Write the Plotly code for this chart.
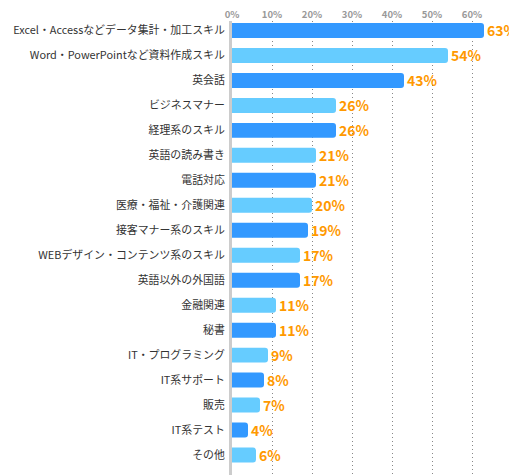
import plotly.graph_objects as go

# skills, top to bottom
skills = [
    'Excel・Accessなどデータ集計・加工スキル',
    'Word・PowerPointなど資料作成スキル',
    '英会話',
    'ビジネスマナー',
    '経理系のスキル',
    '英語の読み書き',
    '電話対応',
    '医療・福祉・介護関連',
    '接客マナー系のスキル',
    'WEBデザイン・コンテンツ系のスキル',
    '英語以外の外国語',
    '金融関連',
    '秘書',
    'IT・プログラミング',
    'IT系サポート',
    '販売',
    'IT系テスト',
    'その他',
]
percent = [63, 54, 43, 26, 26, 21, 21, 20, 19, 17, 17, 11, 11, 9, 8, 7, 4, 6]
tick_vals = [0, 10, 20, 30, 40, 50, 60]
tick_text = ['0%', '10%', '20%', '30%', '40%', '50%', '60%']

DARK = '#3399FF'
LIGHT = '#66CCFF'
bar_colors = [DARK if i % 2 == 0 else LIGHT for i in range(len(skills))]

fig = go.Figure(go.Bar(
    x=percent,
    y=skills,
    orientation='h',
    width=0.6,
    marker=dict(color=bar_colors, line=dict(width=0), cornerradius=3),
    text=[f'{v}%' for v in percent],
    textposition='outside',
    constraintext='none',
    textfont=dict(color='#FF9900', size=14, family='Noto Sans CJK JP', weight='bold'),
    cliponaxis=False,
    hoverinfo='skip',
))

# the page body adds 8px around the figure, so the size is trimmed to fit 517x475
fig.update_layout(
    width=509,
    height=467,
    margin=dict(l=224, r=5, t=13, b=0),
    paper_bgcolor='white',
    plot_bgcolor='white',
    showlegend=False,
    font=dict(family='Noto Sans CJK JP', color='#333333'),
)

fig.update_xaxes(
    side='top',
    range=[0, 70],
    tickvals=tick_vals,
    ticktext=tick_text,
    tickfont=dict(size=9.5, color='#999999', weight='bold'),
    showgrid=True,
    gridcolor='#888888',
    griddash='1px,3px',
    gridwidth=1,
    zeroline=False,
    showline=False,
    ticks='',
    ticklabelstandoff=0,
    automargin=False,
)

fig.update_yaxes(
    range=[17.8, -0.38],
    tickfont=dict(size=10.9, color='#333333'),
    ticks='outside',
    ticklen=2,
    tickcolor='rgba(0,0,0,0)',
    showline=True,
    linecolor='#CCCCCC',
    linewidth=3,
    showgrid=False,
    automargin=False,
)

fig.write_html('out.html')
